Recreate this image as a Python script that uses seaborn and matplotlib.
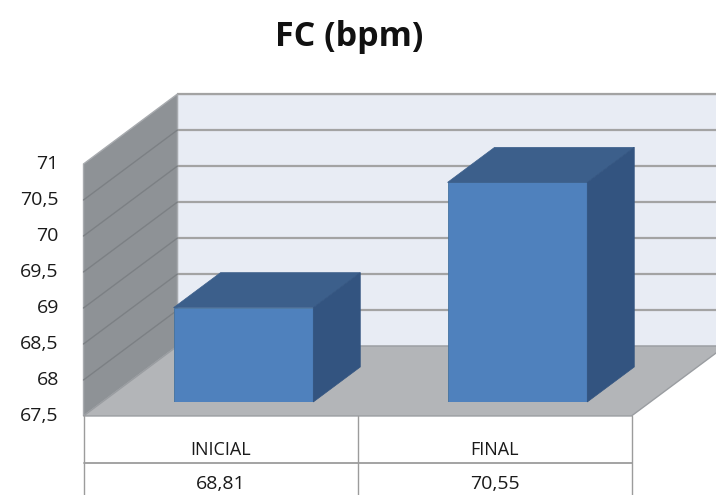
import numpy as np
import seaborn as sns
import matplotlib
matplotlib.use("Agg")
import matplotlib.pyplot as plt
from matplotlib.patches import Polygon, Rectangle

# Dados do grafico
categorias = ["INICIAL", "FINAL"]
valores = [68.81, 70.55]
rotulos_valores = ["68,81", "70,55"]
ticks_y = [67.5, 68, 68.5, 69, 69.5, 70, 70.5, 71]
rotulos_y = ["67,5", "68", "68,5", "69", "69,5", "70", "70,5", "71"]
titulo = "FC (bpm)"

sns.set_theme(style="white")
plt.rcParams["font.family"] = ["Open Sans", "DejaVu Sans"]

# cores estilo Excel 3D
cor_frente = "#4F81BD"
cor_topo = "#3C5F8B"
cor_lado = "#335480"
cor_fundo = "#E8ECF4"
cor_parede = "#8E9296"
cor_chao = "#B3B5B8"
cor_grade = "#A3A3A3"

base, topo = ticks_y[0], ticks_y[-1]
# vetor de profundidade (unidades de dados), plano dos dados = frente das barras
prof = np.array([0.343, 0.972])
d_barra = 0.2


def desloc(d):
    return (d - d_barra) * prof


fig = plt.figure(figsize=(7.16, 4.95), dpi=100)
ax = fig.add_axes([0, 0, 1, 1])
ax.axis("off")

x0, x1 = -0.5, len(categorias) - 0.5
f, t = desloc(0), desloc(1)

# parede do fundo
ax.add_patch(Polygon([(x0 + t[0], base + t[1]), (x1 + t[0] + 0.5, base + t[1]),
                      (x1 + t[0] + 0.5, topo + t[1]), (x0 + t[0], topo + t[1])],
                     closed=True, fc=cor_fundo, ec="#C8CCD2", lw=1, zorder=1))
for v in ticks_y[1:]:
    ax.plot([x0 + t[0], x1 + t[0] + 0.5], [v + t[1], v + t[1]],
            color=cor_grade, lw=1.6, zorder=2, solid_capstyle="butt")

# parede esquerda
ax.add_patch(Polygon([(x0 + f[0], base + f[1]), (x0 + f[0], topo + f[1]),
                      (x0 + t[0], topo + t[1]), (x0 + t[0], base + t[1])],
                     closed=True, fc=cor_parede, ec="#A8ABAF", lw=1, zorder=3))
for v in ticks_y[1:-1]:
    ax.plot([x0 + f[0], x0 + t[0]], [v + f[1], v + t[1]],
            color="#7C8084", lw=1.0, zorder=4)

# chao
ax.add_patch(Polygon([(x0 + f[0], base + f[1]), (x1 + f[0], base + f[1]),
                      (x1 + t[0], base + t[1]), (x0 + t[0], base + t[1])],
                     closed=True, fc=cor_chao, ec="#9A9DA1", lw=1, zorder=3))

# barras: frente com seaborn
sns.barplot(x=categorias, y=valores, color=cor_frente, saturation=1,
            width=0.51, ax=ax, zorder=5, edgecolor="#44729F", linewidth=0.6)
ax.set_xlim(-0.8734, 1.7398)
ax.set_ylim(66.208, 73.083)
clip = Rectangle((-5, base), 10, 20, transform=ax.transData)
fundo_barra = desloc(d_barra + 0.5)
for p in ax.patches:
    if isinstance(p, Rectangle) and p.get_height() > 10:
        p.set_x(p.get_x() + 0.015)
        p.set_clip_path(clip)
        xa, w, h = p.get_x(), p.get_width(), p.get_height()
        dx, dy = fundo_barra
        ax.add_patch(Polygon([(xa, h), (xa + w, h), (xa + w + dx, h + dy), (xa + dx, h + dy)],
                             closed=True, fc=cor_topo, ec=cor_topo, lw=0.5, zorder=5))
        ax.add_patch(Polygon([(xa + w, base), (xa + w + dx, base + dy),
                              (xa + w + dx, h + dy), (xa + w, h)],
                             closed=True, fc=cor_lado, ec=cor_lado, lw=0.5, zorder=5))

# rotulos do eixo y
for v, r in zip(ticks_y, rotulos_y):
    ax.text(x0 + f[0] - 0.09, v + f[1], r, ha="right", va="center",
            fontsize=14, color="#1A1A1A", zorder=6)

# tabela de dados
y_tab0 = base + f[1]
y_tab1 = y_tab0 - 0.66
y_tab2 = y_tab1 - 0.6
for xv in [x0, 0.5, x1]:
    ax.plot([xv + f[0], xv + f[0]], [y_tab0, y_tab2], color="#9C9C9C", lw=1, zorder=6)
ax.plot([x0 + f[0], x1 + f[0]], [y_tab1, y_tab1], color="#9C9C9C", lw=1.3, zorder=6)
for i, (c, r) in enumerate(zip(categorias, rotulos_valores)):
    ax.text(i + f[0], y_tab0 - 0.47, c, ha="center", va="center",
            fontsize=13, color="#1A1A1A", zorder=6)
    ax.text(i + f[0], y_tab1 - 0.28, r, ha="center", va="center",
            fontsize=14, color="#1A1A1A", zorder=6)

fig.text(0.488, 0.926, titulo, ha="center", va="center", fontsize=24.5,
         fontweight="bold", color="#111111")

fig.savefig("out.png", dpi=100)
